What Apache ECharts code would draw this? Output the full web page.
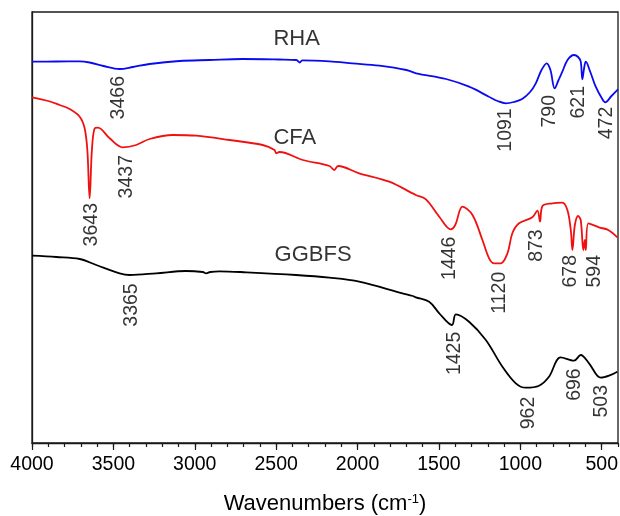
<!DOCTYPE html>
<html lang="en">
<head>
<meta charset="UTF-8">
<title>FTIR spectra</title>
<script src="https://cdn.jsdelivr.net/npm/echarts@6/dist/echarts.min.js"></script>
<style>
    html, body { margin: 0; padding: 0; background: #fff; }
    #chart { width: 620px; height: 516px; }
</style>
</head>
<body>
<div id="chart"></div>
<script>
// wavenumber (cm-1) and relative transmittance (a.u.)
var rhaWave = [4000, 3850, 3707, 3646, 3560, 3462, 3380, 3278, 3094, 2910, 2707, 2480, 2376, 2355, 2340, 2173, 2032, 1866, 1700, 1640, 1456, 1315, 1193, 1140, 1089, 1040, 989, 940, 905, 870, 838, 815, 789, 765, 742, 710, 670, 645, 629, 619, 608, 598, 570, 537, 500, 478, 440, 400];
var rhaT    = [381.3, 381.5, 381.7, 380.5, 377, 374, 376, 379, 382, 383, 384, 383.5, 383, 380.5, 382.7, 381.7, 379.7, 377.3, 373, 369.7, 364, 356.3, 346.3, 342, 339.7, 341, 344, 351, 359.7, 373, 379.7, 373, 354.7, 363, 371.3, 383, 388, 386, 381.3, 363.7, 375, 381.3, 371, 356.3, 345, 340.7, 347, 353.7];

var cfaWave = [4000, 3900, 3830, 3769, 3707, 3677, 3660, 3646, 3632, 3615, 3595, 3523, 3442, 3360, 3278, 3135, 2991, 2787, 2583, 2510, 2500, 2480, 2337, 2173, 2143, 2120, 1990, 1806, 1642, 1580, 1498, 1427, 1400, 1355, 1294, 1233, 1192, 1161, 1120, 1079, 1049, 1008, 926, 895, 879, 864, 803, 742, 711, 690, 680, 665, 645, 629, 613, 604, 598, 582, 517, 460, 404];
var cfaT    = [345.7, 342, 338, 334, 326.3, 315, 293, 244.7, 293, 314.7, 315.3, 304.7, 295.7, 298, 304, 308, 307.3, 303, 298, 293, 289.7, 291, 283, 277, 273, 277, 269.7, 261.3, 248, 243.7, 226.3, 213.7, 218, 236.3, 228, 203, 184.7, 179.7, 179.7, 189.7, 209.7, 219.7, 225.7, 232.3, 221.3, 237, 239.7, 240.3, 233, 213, 193, 218, 227, 223, 193, 203, 193, 219.7, 215.7, 213, 205.7];

var ggbfsWave = [4000, 3850, 3707, 3605, 3462, 3400, 3237, 3053, 2950, 2930, 2905, 2848, 2684, 2378, 2173, 1990, 1724, 1660, 1642, 1560, 1498, 1420, 1396, 1315, 1212, 1110, 1028, 967, 885, 824, 752, 670, 629, 578, 506, 455, 404];
var ggbfsT    = [187.3, 186, 184, 178, 169.7, 168, 169.7, 172, 171, 169.7, 171, 171.7, 170.7, 168, 165.3, 161.3, 149.7, 147, 145.7, 141.3, 129.7, 118, 128.7, 121.3, 103, 76.3, 59.7, 55.3, 57.3, 66.3, 85.7, 82.3, 88, 79.7, 65.3, 67.3, 71.3];

// peak labels: [wavenumber, top of label, text]
var rhaPeaks = [[3465, 367, '3466'], [1090, 334.7, '1091'], [818, 348, '790'], [642, 357, '621'], [471, 336.3, '472']];
var cfaPeaks = [[3635, 240, '3643'], [3421, 288, '3437'], [1437, 206.3, '1446'], [1127, 171.3, '1120'], [900, 213.7, '873'], [690, 188, '678'], [544, 188, '594']];
var ggbfsPeaks = [[3386, 159.7, '3365'], [1406, 111.3, '1425'], [946, 46.3, '962'], [667, 74.7, '696'], [501, 58, '503']];

// sample names
var sampleNames = [[2517, 404, 'RHA'], [2517, 305.5, 'CFA'], [2510, 188.5, 'GGBFS']];

var majorTicks = [4000, 3500, 3000, 2500, 2000, 1500, 1000, 500];

var FONT = "'Liberation Sans', Arial, sans-serif";

function zip(xs, ys) {
    return xs.map(function (x, i) { return [x, ys[i]]; });
}

function lineSeries(name, wave, t, color) {
    return {
        name: name,
        type: 'line',
        data: zip(wave, t),
        showSymbol: false,
        smooth: 0.35,
        lineStyle: { color: color, width: 1.8 },
        silent: true,
        z: 3
    };
}

function peakSeries(peaks) {
    return {
        type: 'scatter',
        symbolSize: 0,
        silent: true,
        data: peaks.map(function (p) { return { value: [p[0], p[1]], text: p[2] }; }),
        label: {
            show: true,
            position: [0, 0],
            rotate: 90,
            align: 'right',
            verticalAlign: 'middle',
            color: '#000',
            fontFamily: FONT,
            fontSize: 19.5,
            formatter: function (p) { return p.data.text; }
        },
        z: 5
    };
}

var chart = echarts.init(document.getElementById('chart'));

var option = {
    backgroundColor: '#fff',
    animation: false,
    grid: {
        left: 32, right: 2, top: 12, bottom: 73,
        show: true,
        borderColor: '#1a1a1a',
        borderWidth: 1.3,
        outerBoundsMode: 'none'
    },
    xAxis: [
        {
            type: 'value',
            min: 400,
            max: 4000,
            inverse: true,
            splitLine: { show: false },
            axisLine: { show: true, onZero: false, lineStyle: { color: '#1a1a1a', width: 1.3 } },
            axisTick: { show: true, length: 7, customValues: majorTicks, lineStyle: { color: '#1a1a1a', width: 1.2 } },
            axisLabel: {
                customValues: majorTicks,
                margin: 12,
                color: '#000',
                fontFamily: FONT,
                fontSize: 19.5,
                formatter: function (v) { return String(v); }
            },
            name: '{n|Wavenumbers (cm}{s|-1}{n|)}',
            nameLocation: 'middle',
            nameGap: 50,
            nameTextStyle: {
                fontFamily: FONT,
                rich: {
                    n: { fontSize: 22, color: '#000', fontFamily: FONT },
                    s: { fontSize: 13, color: '#000', fontFamily: FONT, verticalAlign: 'top' }
                }
            }
        },
        {
            // minor ticks every 100 cm-1
            type: 'value',
            position: 'bottom',
            min: 400,
            max: 4000,
            interval: 100,
            inverse: true,
            splitLine: { show: false },
            axisLine: { show: false },
            axisTick: { show: true, length: 4, lineStyle: { color: '#1a1a1a', width: 1.2 } },
            axisLabel: { show: false }
        }
    ],
    yAxis: {
        type: 'value',
        min: 0,
        max: 431,
        splitLine: { show: false },
        axisLine: { show: true, lineStyle: { color: '#1a1a1a', width: 1.3 } },
        axisTick: { show: false },
        axisLabel: { show: false }
    },
    series: [
        lineSeries('RHA', rhaWave, rhaT, '#0a0af0'),
        lineSeries('CFA', cfaWave, cfaT, '#f01010'),
        lineSeries('GGBFS', ggbfsWave, ggbfsT, '#000'),
        peakSeries(rhaPeaks),
        peakSeries(cfaPeaks),
        peakSeries(ggbfsPeaks),
        {
            type: 'scatter',
            symbolSize: 0,
            silent: true,
            data: sampleNames.map(function (p) { return { value: [p[0], p[1]], text: p[2] }; }),
            label: {
                show: true,
                position: [0, 0],
                align: 'left',
                verticalAlign: 'middle',
                color: '#000',
                fontFamily: FONT,
                fontSize: 22,
                formatter: function (p) { return p.data.text; }
            }
        }
    ]
};

chart.setOption(option);
</script>
</body>
</html>
